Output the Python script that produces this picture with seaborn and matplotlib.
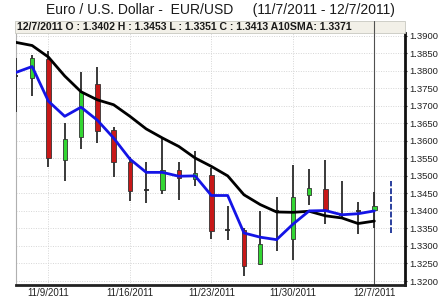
import matplotlib
matplotlib.use("Agg")
import matplotlib.pyplot as plt
from matplotlib.patches import Rectangle
import numpy as np
import pandas as pd
import seaborn as sns

# trading days shown on the chart (11/7/2011 - 12/7/2011)
dates = ['11/7', '11/8', '11/9', '11/10', '11/11', '11/14', '11/15', '11/16',
         '11/17', '11/18', '11/21', '11/22', '11/23', '11/24', '11/25', '11/28',
         '11/29', '11/30', '12/1', '12/2', '12/5', '12/6', '12/7']
opens = [1.3783, 1.3779, 1.3833, 1.3544, 1.3610, 1.3762, 1.3632, 1.3541,
         1.3462, 1.3459, 1.3516, 1.3492, 1.3503, 1.3342, 1.3346, 1.3248,
         1.3398, 1.3320, 1.3446, 1.3462, 1.3389, 1.3398, 1.3402]
highs = [1.3836, 1.3846, 1.3855, 1.3651, 1.3795, 1.3812, 1.3639, 1.3554,
         1.3539, 1.3608, 1.3541, 1.3570, 1.3522, 1.3413, 1.3351, 1.3399,
         1.3441, 1.3532, 1.3520, 1.3546, 1.3484, 1.3426, 1.3453]
lows = [1.3682, 1.3727, 1.3524, 1.3484, 1.3578, 1.3594, 1.3497, 1.3429,
        1.3422, 1.3448, 1.3432, 1.3470, 1.3320, 1.3316, 1.3213, 1.3246,
        1.3287, 1.3259, 1.3418, 1.3363, 1.3378, 1.3334, 1.3351]
closes = [1.3784, 1.3836, 1.3551, 1.3605, 1.3738, 1.3629, 1.3539, 1.3456,
          1.3459, 1.3518, 1.3494, 1.3508, 1.3342, 1.3345, 1.3242, 1.3306,
          1.3399, 1.3439, 1.3465, 1.3403, 1.3388, 1.3399, 1.3413]
sma10 = [1.3881, 1.3872, 1.3839, 1.3785, 1.3740, 1.3717, 1.3703, 1.3670,
         1.3634, 1.3608, 1.3584, 1.3551, 1.3527, 1.3500, 1.3446, 1.3418,
         1.3397, 1.3396, 1.3399, 1.3386, 1.3380, 1.3364, 1.3371]
ma_fast = [1.3795, 1.3812, 1.3713, 1.3670, 1.3696, 1.3659, 1.3608, 1.3548,
           1.3510, 1.3510, 1.3499, 1.3500, 1.3444, 1.3444, 1.3337, 1.3325,
           1.3318, 1.3362, 1.3400, 1.3401, 1.3389, 1.3392, 1.3400]
# projected range for the next session
proj_lo, proj_hi = 1.3337, 1.3484

tick_days = ['11/9', '11/16', '11/23', '11/30', '12/7']
tick_labels = ['11/9/2011', '11/16/2011', '11/23/2011', '11/30/2011', '12/7/2011']
header = '12/7/2011 O : 1.3402 H : 1.3453 L : 1.3351 C : 1.3413 A10SMA: 1.3371'
title = 'Euro / U.S. Dollar -  EUR/USD     (11/7/2011 - 12/7/2011)'

sns.set_style("white")
plt.rcParams['font.family'] = ['Liberation Sans Narrow', 'Liberation Sans', 'DejaVu Sans']

df = pd.DataFrame({'date': dates, 'open': opens, 'high': highs, 'low': lows,
                   'close': closes, 'sma10': sma10, 'fast': ma_fast})
df['i'] = np.arange(len(df))

W, H = 438, 298
fig = plt.figure(figsize=(W / 100, H / 100), dpi=100)
ax = fig.add_axes([15.5 / W, (H - 285) / H, (405 - 15.5) / W, (285 - 33) / H])

# candles
for _, r in df.iterrows():
    ax.vlines(r['i'], r['low'], r['high'], color='#2a2a2a', lw=1.3, zorder=3)
    diff = r['close'] - r['open']
    if abs(diff) < 0.0005:
        ax.hlines(r['close'], r['i'] - 0.15, r['i'] + 0.15, color='#2a2a2a', lw=1.3, zorder=3)
    else:
        col = '#33d633' if diff > 0 else '#c81818'
        ax.bar(r['i'], abs(diff), bottom=min(r['open'], r['close']), width=0.27,
               color=col, edgecolor='#333333', linewidth=0.6, zorder=4)

sns.lineplot(data=df, x='i', y='sma10', color='black', lw=2, ax=ax, zorder=5)
sns.lineplot(data=df, x='i', y='fast', color='#1414e6', lw=2, ax=ax, zorder=6)

# next-day projection and cursor line
ax.vlines(len(df), proj_lo, proj_hi, color='#2a3f9e', lw=1.4, linestyles=(0, (3, 1)), zorder=5)
ax.axvline(len(df) - 1, color='#505050', lw=0.8, zorder=2)

ax.set_xlim(-0.02, 23.88)
ax.set_ylim(1.31886, 1.39077)
ax.set_xlabel('')
ax.set_ylabel('')

yt = np.round(np.arange(1.32, 1.3901, 0.005), 4)
ax.set_yticks(yt)
ax.set_yticklabels([f'{v:.4f}' for v in yt], fontsize=6.8, color='#222222')
ax.yaxis.tick_right()
ax.tick_params(axis='y', length=1.5, pad=1.5, direction='out', colors='#222222')

xt = [dates.index(d) for d in tick_days]
ax.set_xticks(xt)
ax.set_xticklabels(tick_labels, fontsize=7, color='#222222')
ax.set_xticks(np.arange(0, 24), minor=True)
ax.tick_params(axis='x', which='major', length=2, pad=0.5)
ax.tick_params(axis='x', which='minor', length=1.5)

ax.grid(True, which='major', color='#d6d6d6', lw=0.7, linestyle=(0, (1, 1.5)))

ax.spines['top'].set_visible(False)
ax.spines['left'].set_color('#b0b0b0')
ax.spines['left'].set_linewidth(0.8)
ax.spines['bottom'].set_linewidth(2)
ax.spines['bottom'].set_color('#222222')
ax.spines['right'].set_linewidth(2)
ax.spines['right'].set_color('#111111')

# header strip
fig.patches.append(Rectangle((15 / W, (H - 33) / H), 390 / W, 12 / H, transform=fig.transFigure,
                             facecolor='#f2f0e8', edgecolor='#c8c8c0', lw=0.6, zorder=1))
fig.lines.append(plt.Line2D([374 / W, 374 / W], [(H - 33) / H, (H - 21) / H],
                            transform=fig.transFigure, color='#505050', lw=0.8))
fig.text(17 / W, (H - 27) / H, header, fontsize=7.6, fontweight='bold', color='#1a1a1a',
         va='center', ha='left')
fig.text(220 / W, (H - 10) / H, title, fontsize=10, color='#1a1a1a', va='center', ha='center')

fig.savefig('out.png', dpi=100)
